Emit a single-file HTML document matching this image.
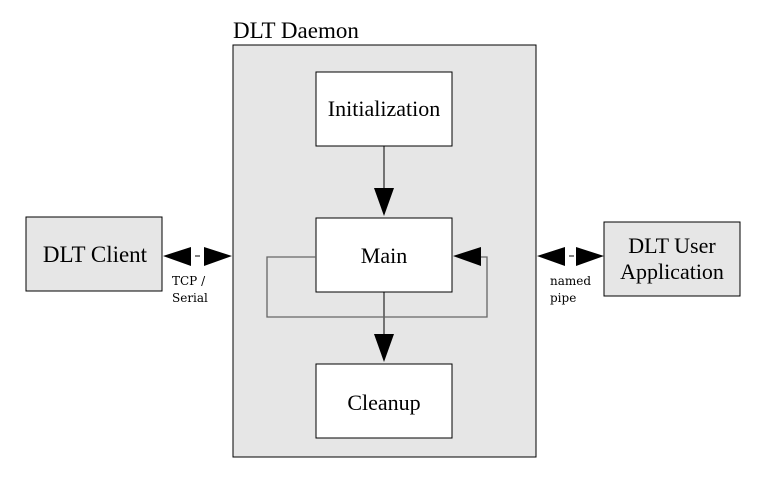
<!DOCTYPE html>
<html><head><style>body{margin:0;background:#fff}</style></head><body>
<svg width="765" height="488" viewBox="0 0 765 488" xmlns="http://www.w3.org/2000/svg" font-family="Liberation Serif, serif">
<rect x="233" y="45" width="303" height="412" fill="#e6e6e6" stroke="#000"/>
<text x="233" y="38" font-size="23">DLT Daemon</text>
<rect x="26" y="217" width="136" height="74" fill="#e6e6e6" stroke="#000"/>
<text x="95" y="262" font-size="23" text-anchor="middle">DLT Client</text>
<rect x="604" y="222" width="136" height="74" fill="#e6e6e6" stroke="#000"/>
<text x="672" y="253" font-size="22" text-anchor="middle">DLT User</text>
<text x="672" y="279" font-size="22" text-anchor="middle">Application</text>
<rect x="316" y="72" width="136" height="74" fill="#fff" stroke="#000"/>
<text x="384" y="116" font-size="22" text-anchor="middle">Initialization</text>
<rect x="316" y="218" width="136" height="74" fill="#fff" stroke="#000"/>
<text x="384" y="263" font-size="22" text-anchor="middle">Main</text>
<rect x="316" y="364" width="136" height="74" fill="#fff" stroke="#000"/>
<text x="384" y="410" font-size="22" text-anchor="middle">Cleanup</text>
<line x1="384" y1="146" x2="384" y2="190" stroke="#000"/>
<polygon points="374,188 394,188 384,216" fill="#000"/>
<line x1="384" y1="292" x2="384" y2="336" stroke="#000"/>
<polygon points="374,334 394,334 384,362" fill="#000"/>
<polyline points="316,257 267,257 267,317 487,317 487,257 480,257" fill="none" stroke="#666" stroke-width="1.3"/>
<polygon points="453,256 481,247 481,266" fill="#000"/>
<polygon points="163,256 191,247 191,266" fill="#000"/>
<polygon points="232,256 204,247 204,266" fill="#000"/>
<line x1="195" y1="256" x2="200" y2="256" stroke="#000"/>
<polygon points="537,256 565,247 565,266" fill="#000"/>
<polygon points="604,256 576,247 576,266" fill="#000"/>
<line x1="569" y1="256" x2="574" y2="256" stroke="#000"/>
<g font-family="DejaVu Serif, serif" font-size="12">
<text x="172" y="285">TCP /</text>
<text x="172" y="302">Serial</text>
<text x="550" y="285">named</text>
<text x="550" y="302">pipe</text>
</g>
</svg>
</body></html>
